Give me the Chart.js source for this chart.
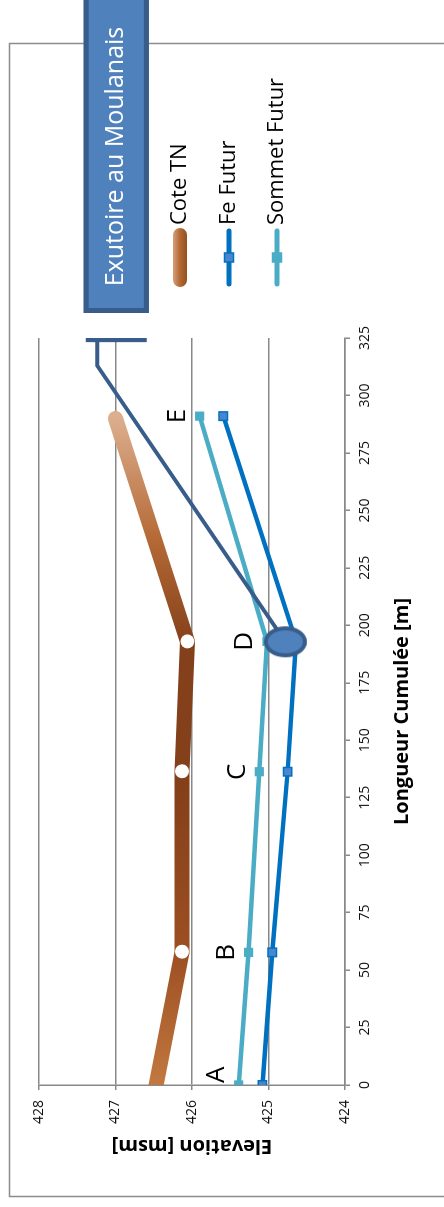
<!DOCTYPE html>
<html>
<head>
<meta charset="utf-8">
<script src="https://cdn.jsdelivr.net/npm/chart.js@4/dist/chart.umd.min.js"></script>
<style>
  html, body { margin: 0; padding: 0; background: #fff; }
  body { width: 444px; height: 1207px; overflow: hidden; position: relative; }
  /* chart is drawn landscape then turned a quarter to the left */
  #wrap { position: absolute; left: 0; top: 1207px; width: 1207px; height: 444px;
          transform-origin: 0 0; transform: rotate(-90deg); }
</style>
</head>
<body>
<div id="wrap"><canvas id="profil" width="1207" height="444"></canvas></div>
<script>
// distances cumulées [m] et élévations [msm]
var distTN = [0, 58, 136.5, 193, 290];
var coteTN = [426.47, 426.13, 426.13, 426.06, 427.0];
var distFutur = [0, 57.7, 136.3, 193, 291];
var feFutur = [425.08, 424.95, 424.75, 424.64, 425.59];
var sommetFutur = [425.39, 425.26, 425.12, 425.02, 425.90];
var pointNames = ["A", "B", "C", "D", "E"];

// exutoire (trait vers l'étiquette) et point de raccordement
var exutoireDist = [192.8, 313, 325];
var exutoireElev = [424.78, 427.24, 427.24];
var calloutDist = [324.5, 324.5];
var calloutElev = [427.39, 426.59];
var raccordDist = [192.8];
var raccordElev = [424.78];

var FONT = "'Open Sans', 'DejaVu Sans', sans-serif";

function pts(xs, ys) {
    return xs.map(function (x, i) { return {x: x, y: ys[i]}; });
}

// ellipse marker for the junction point
var ellipse = document.createElement('canvas');
ellipse.width = 33; ellipse.height = 45;
(function () {
    var c = ellipse.getContext('2d');
    c.beginPath();
    c.ellipse(16.5, 22.5, 13.5, 19.5, 0, 0, Math.PI * 2);
    c.fillStyle = '#4F81BD';
    c.fill();
    c.lineWidth = 4;
    c.strokeStyle = '#385D8A';
    c.stroke();
})();

function brownGradient(context) {
    var chart = context.chart;
    if (!chart.chartArea) return '#8A4419';
    var x0 = chart.scales.x.getPixelForValue(distTN[0]);
    var x1 = chart.scales.x.getPixelForValue(distTN[distTN.length - 1]);
    var g = chart.ctx.createLinearGradient(x0, 0, x1, 0);
    g.addColorStop(0, '#C27840');
    g.addColorStop(0.2, '#9C4F22');
    g.addColorStop(0.45, '#84401A');
    g.addColorStop(0.66, '#84401A');
    g.addColorStop(0.82, '#B56A36');
    g.addColorStop(1, '#DCAE8E');
    return g;
}

var frame = {
    id: 'frame',
    beforeDraw: function (chart) {
        var ctx = chart.ctx;
        ctx.save();
        ctx.strokeStyle = '#8C8C8C';
        ctx.lineWidth = 1.5;
        ctx.strokeRect(10.5, 9.5, 1153, 460);
        ctx.restore();
    }
};

var extras = {
    id: 'extras',
    afterDraw: function (chart) {
        var ctx = chart.ctx, area = chart.chartArea, y = chart.scales.y;
        ctx.save();

        // point letters above Sommet Futur
        var meta = chart.getDatasetMeta(4);
        ctx.font = '26px ' + FONT;
        ctx.fillStyle = '#000';
        ctx.textAlign = 'center';
        ctx.textBaseline = 'middle';
        meta.data.forEach(function (p, i) {
            var w = ctx.measureText(pointNames[i]).width;
            var px = Math.max(p.x, area.left + w / 2 + 2);
            ctx.fillText(pointNames[i], px, p.y - 22);
        });

        // callout box
        var top = y.getPixelForValue(calloutElev[0]) - 2;
        var bot = y.getPixelForValue(calloutElev[1]) + 2;
        var left = area.right + 25;
        ctx.fillStyle = '#4F81BD';
        ctx.fillRect(left, top, 340, bot - top);
        ctx.strokeStyle = '#385D8A';
        ctx.lineWidth = 5;
        ctx.strokeRect(left + 2.5, top + 2.5, 340, bot - top - 5);
        ctx.fillStyle = '#fff';
        ctx.font = '25px ' + FONT;
        ctx.fillText('Exutoire au Moulanais', (left + chart.width) / 2, (top + bot) / 2);

        // legend
        var lx = area.right + 51, len = 59;
        var rows = [180, 229, 277];
        ctx.textAlign = 'left';
        ctx.font = '22px ' + FONT;
        [2, 3, 4].forEach(function (di, k) {
            var ds = chart.data.datasets[di], ly = rows[k];
            ctx.lineCap = 'round';
            if (di === 2) {
                var g = ctx.createLinearGradient(0, ly - 7, 0, ly + 7);
                g.addColorStop(0, '#D7A07A');
                g.addColorStop(0.5, '#B36934');
                g.addColorStop(1, '#93501F');
                ctx.strokeStyle = g;
                ctx.lineWidth = 14;
                ctx.beginPath();
                ctx.moveTo(lx + 7, ly); ctx.lineTo(lx + len - 7, ly);
                ctx.stroke();
            } else {
                ctx.strokeStyle = ds.borderColor;
                ctx.lineWidth = 5;
                ctx.beginPath();
                ctx.moveTo(lx + 3, ly); ctx.lineTo(lx + len - 3, ly);
                ctx.stroke();
                ctx.fillStyle = ds.pointBackgroundColor;
                ctx.fillRect(lx + len / 2 - 4.5, ly - 4.5, 9, 9);
                ctx.lineWidth = 1.5;
                ctx.strokeStyle = ds.pointBorderColor;
                ctx.strokeRect(lx + len / 2 - 4.5, ly - 4.5, 9, 9);
            }
            ctx.fillStyle = '#000';
            ctx.fillText(ds.label, lx + len + 3, ly);
        });
        ctx.restore();
    }
};

new Chart(document.getElementById('profil'), {
    type: 'line',
    data: {
        datasets: [
            {
                label: 'Exutoire au Moulanais',
                data: pts(exutoireDist, exutoireElev),
                borderColor: '#385D8A', borderWidth: 4, pointRadius: 0, order: 2
            },
            {
                label: 'callout',
                data: pts(calloutDist, calloutElev),
                borderColor: '#385D8A', borderWidth: 6, pointRadius: 0, order: 2
            },
            {
                label: 'Cote TN',
                data: pts(distTN, coteTN),
                borderColor: brownGradient, borderWidth: 15,
                borderCapStyle: 'round', borderJoinStyle: 'round',
                pointRadius: [0, 7, 7, 7, 0], pointBackgroundColor: '#fff',
                pointBorderWidth: 0, order: 5
            },
            {
                label: 'Fe Futur',
                data: pts(distFutur, feFutur),
                borderColor: '#0070C0', borderWidth: 4.5,
                pointStyle: 'rect', pointRadius: 6,
                pointBackgroundColor: '#4A86D0', pointBorderColor: '#0070C0',
                pointBorderWidth: 1.5, order: 4
            },
            {
                label: 'Sommet Futur',
                data: pts(distFutur, sommetFutur),
                borderColor: '#4BACC6', borderWidth: 4.5,
                pointStyle: 'rect', pointRadius: 6.5,
                pointBackgroundColor: '#4BACC6', pointBorderColor: '#4BACC6',
                pointBorderWidth: 0, order: 3
            },
            {
                label: 'raccord',
                data: pts(raccordDist, raccordElev),
                showLine: false, pointStyle: ellipse, pointRadius: 10, order: 0
            }
        ]
    },
    options: {
        responsive: false,
        animation: false,
        devicePixelRatio: 1,
        layout: {padding: {top: 39, left: 0, right: 338, bottom: 0}},
        plugins: {legend: {display: false}, tooltip: {enabled: false}},
        elements: {line: {tension: 0}},
        scales: {
            x: {
                type: 'linear', min: 0, max: 325,
                ticks: {stepSize: 25, color: '#111', font: {family: FONT, size: 14}, padding: 7, maxRotation: 0, autoSkip: false},
                grid: {drawOnChartArea: false, tickLength: 5, color: '#888', lineWidth: 1.5},
                border: {color: '#888', width: 1.5},
                title: {display: true, text: 'Longueur Cumulée [m]', color: '#000',
                        font: {family: FONT, size: 20, weight: 'bold'}, padding: {top: 0, bottom: 30}},
                afterFit: function (s) { s.height = 99; }
            },
            y: {
                min: 424, max: 428,
                ticks: {stepSize: 1, color: '#111', font: {family: FONT, size: 14}, padding: 10},
                grid: {tickLength: 5, color: '#888', lineWidth: 1.5},
                border: {color: '#888', width: 1.5},
                title: {display: true, text: 'Elevation [msm]', color: '#000',
                        font: {family: FONT, size: 20, weight: 'bold'}, padding: {top: 49, bottom: 0}},
                afterFit: function (s) { s.width = 122; }
            }
        }
    },
    plugins: [frame, extras]
});
</script>
</body>
</html>
